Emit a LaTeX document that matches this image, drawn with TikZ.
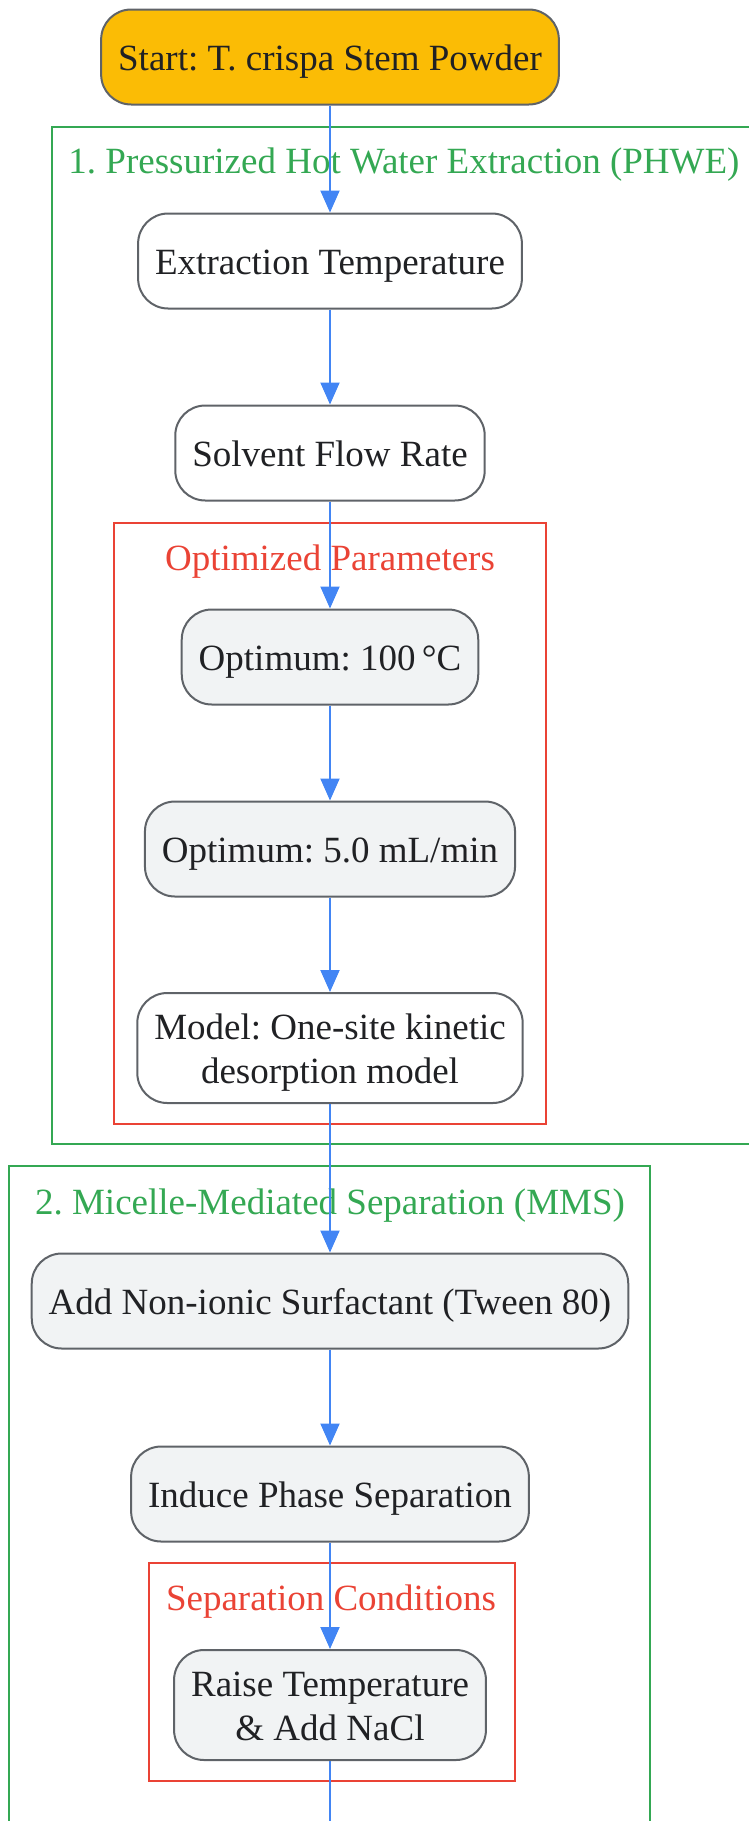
\documentclass[tikz,border=0pt]{standalone}
\usepackage{fontspec}
\setmainfont{Liberation Serif}
\frenchspacing
\usetikzlibrary{arrows.meta}
\usetikzlibrary{shapes,positioning}
\definecolor{startfill}{HTML}{FBBC05}
\definecolor{nodegray}{HTML}{F1F3F4}
\definecolor{edgeblue}{HTML}{4285F4}
\definecolor{borderg}{HTML}{5F6368}
\definecolor{groupgreen}{HTML}{34A853}
\definecolor{groupred}{HTML}{EA4335}
\definecolor{inktext}{HTML}{202124}
\tikzset{>={Triangle[length=22pt,width=19pt]}}
\tikzset{
  stepbox/.style={draw=borderg, line width=2pt, rounded corners=30pt, fill=white,
    text=inktext, align=center, inner xsep=17pt, inner ysep=11.5pt, minimum height=95pt,
    font=\fontsize{37}{44}\selectfont,
    execute at begin node=\rule{0pt}{35pt},
    execute at end node=\rule[-8pt]{0pt}{8pt}},
  twoline/.style={minimum height=110pt, text height=79pt, text depth=8pt},
  optbox/.style={stepbox, fill=nodegray},
  startbox/.style={stepbox, fill=startfill},
  phase/.style={draw=groupgreen, line width=2.5pt},
  subphase/.style={draw=groupred, line width=2.5pt},
  phasetitle/.style={anchor=base, text=groupgreen, font=\fontsize{37}{44}\selectfont},
  subtitle/.style={anchor=base, text=groupred, font=\fontsize{37}{44}\selectfont},
  flow/.style={->, draw=edgeblue, fill=edgeblue, line width=2pt}
}

\begin{document}
\begin{tikzpicture}[x=1pt,y=1pt]
				\useasboundingbox (0,0) rectangle (748,-1821);
				% groups
				\draw[phase] (52,-127) rectangle (800,-1144);
				\node[phasetitle] (phwet) at (404,-173) {1. Pressurized Hot Water Extraction (PHWE)};
				\draw[subphase] (114,-523) rectangle (546,-1124);
				\node[subtitle] (optt) at (330,-570) {Optimized Parameters};
				\draw[phase] (9,-1166) rectangle (650,-1900);
				\node[phasetitle] (mmst) at (330,-1214) {2. Micelle-Mediated Separation (MMS)};
				\draw[subphase] (149,-1563) rectangle (515,-1781);
				\node[subtitle] (sept) at (331,-1610) {Separation Conditions};
				% steps
				\node[startbox] (start) at (330,-57) {Start: T. crispa Stem Powder};
				\node[stepbox] (temp) at (330,-261) {Extraction Temperature};
				\node[stepbox] (flowrate) at (330,-453) {Solvent Flow Rate};
				\node[optbox] (opttemp) at (330,-657) {Optimum: 100\,°C};
				\node[optbox] (optflow) at (330,-849) {Optimum: 5.0 mL/min};
				\node[stepbox, twoline] (model) at (330,-1048) {Model: One-site kinetic\\desorption model};
				\node[optbox] (tween) at (330,-1301) {Add Non-ionic Surfactant (Tween 80)};
				\node[optbox] (induce) at (330,-1494) {Induce Phase Separation};
				\node[optbox, twoline] (salt) at (330,-1705) {Raise Temperature\\\& Add NaCl};
				\coordinate (beyond) at (330,-1900);
				% connectors
				\draw[flow] (start) -- (temp);
				\draw[flow] (temp) -- (flowrate);
				\draw[flow] (flowrate) -- (opttemp);
				\draw[flow] (opttemp) -- (optflow);
				\draw[flow] (optflow) -- (model);
				\draw[flow] (model) -- (tween);
				\draw[flow] (tween) -- (induce);
				\draw[flow] (induce) -- (salt);
				\draw[flow] (salt) -- (beyond);
				\end{tikzpicture}
\end{document}
